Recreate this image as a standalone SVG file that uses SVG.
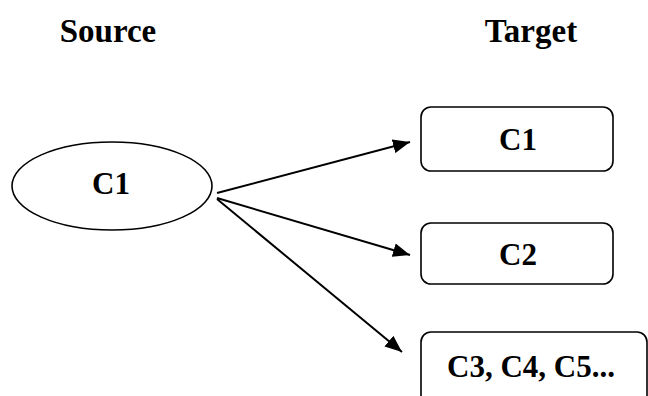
<svg xmlns="http://www.w3.org/2000/svg" width="648" height="396" viewBox="0 0 648 396">
<style>
.t{font-family:"Liberation Serif","Times New Roman",serif;font-weight:bold;fill:#000;text-anchor:middle}
.title{font-size:33px}
.lbl{font-size:31px}
.shape{fill:#fff;stroke:#000;stroke-width:1.6}
.conn{stroke:#000;stroke-width:2;fill:none;marker-end:url(#ah)}
</style>
<defs>
<marker id="ah" markerUnits="userSpaceOnUse" markerWidth="18" markerHeight="14" refX="17" refY="7" orient="auto">
<path d="M0,0 L17,7 L0,14 Z" fill="#000"/>
</marker>
</defs>
<rect width="648" height="396" fill="#fff"/>
<text class="t title" x="108" y="42">Source</text>
<text class="t title" x="531" y="42">Target</text>
<g id="connectors">
<line class="conn" x1="217" y1="193" x2="410" y2="142"/>
<line class="conn" x1="217" y1="198" x2="410" y2="255"/>
<line class="conn" x1="217" y1="199" x2="402" y2="352"/>
</g>
<g id="source-c1">
<ellipse class="shape" cx="112" cy="186" rx="100" ry="44"/>
<text class="t lbl" x="111" y="194">C1</text>
</g>
<g id="target-c1">
<rect class="shape" x="421" y="107" width="192" height="64" rx="10"/>
<text class="t lbl" x="518" y="150">C1</text>
</g>
<g id="target-c2">
<rect class="shape" x="421" y="223" width="192" height="61" rx="10"/>
<text class="t lbl" x="518" y="265">C2</text>
</g>
<g id="target-c3">
<rect class="shape" x="421" y="332" width="226" height="80" rx="10"/>
<text class="t lbl" x="531" y="377">C3, C4, C5...</text>
</g>
</svg>
